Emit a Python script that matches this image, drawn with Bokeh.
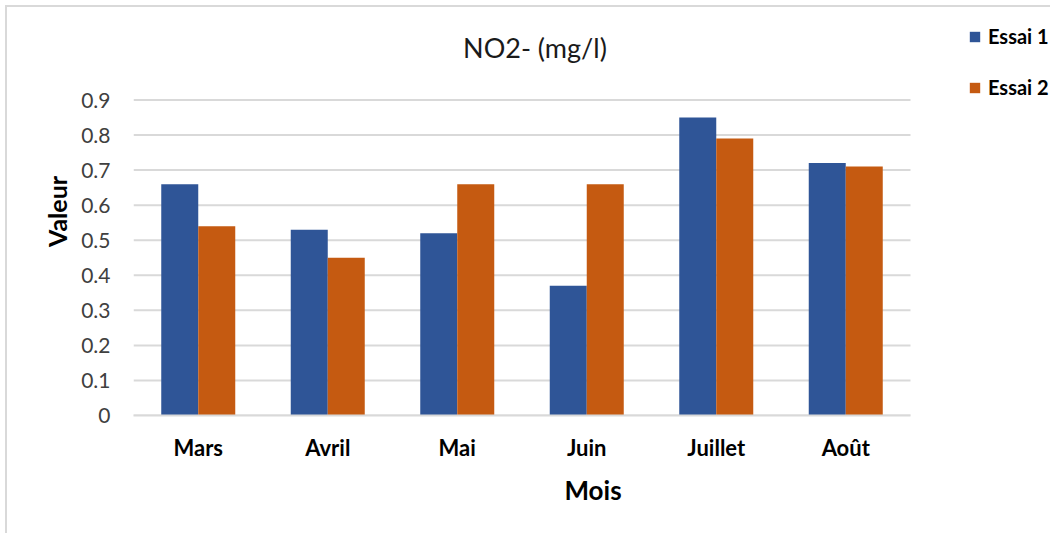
from bokeh.plotting import figure
from bokeh.models import Range1d, FixedTicker, Legend, LegendItem, ColumnDataSource, Label
from bokeh.embed import file_html
from bokeh.resources import INLINE

months = ["Mars", "Avril", "Mai", "Juin", "Juillet", "Août"]
essai1 = [0.66, 0.53, 0.52, 0.37, 0.85, 0.72]
essai2 = [0.54, 0.45, 0.66, 0.66, 0.79, 0.71]
y_ticks = [0, 0.1, 0.2, 0.3, 0.4, 0.5, 0.6, 0.7, 0.8, 0.9]
y_tick_labels = ["0", "0.1", "0.2", "0.3", "0.4", "0.5", "0.6", "0.7", "0.8", "0.9"]
series_names = ["Essai 1", "Essai 2"]
title_text = "NO2- (mg/l)"

BLUE = "#2F5597"
ORANGE = "#C55A11"
GRID = "#D9D9D9"
FONT = "Lato"

OFF = 7                           # canvas offset created by css margin+border
W, H = 1052 - OFF, 535 - OFF
LEFT, BOTTOM = 133 - OFF, 120     # frame left / bottom borders (px)
CAT_PX = 129.5                    # pixels per category
Y_PX = 315.5 / 0.9                # pixels per value unit

n = len(months)
centers = [i + 0.5 for i in range(n)]
bw = 1 / 3.5
src = ColumnDataSource(dict(
    x1=[c - bw / 2 for c in centers], x2=[c + bw / 2 for c in centers],
    e1=essai1, e2=essai2))
grid_src = ColumnDataSource(dict(
    x0=[0] * len(y_ticks), x1=[n] * len(y_ticks), y=y_ticks))

x_end = (W - LEFT) / CAT_PX
y_end = (H - BOTTOM) / Y_PX

p = figure(
    x_range=Range1d(0, x_end),
    y_range=Range1d(0, y_end),
    width=W, height=H,
    output_backend="svg", toolbar_location=None,
    min_border_left=LEFT, min_border_right=0,
    min_border_top=0, min_border_bottom=BOTTOM,
)
p.styles = {"margin-left": "5px", "margin-top": "5px",
            "border-left": "2px solid #D9D9D9", "border-top": "2px solid #D9D9D9"}
p.outline_line_color = None
p.background_fill_color = "white"
p.border_fill_color = "white"
p.xgrid.visible = False
p.ygrid.visible = False

# horizontal gridlines limited to the category span
p.segment(x0="x0", y0="y", x1="x1", y1="y", source=grid_src,
          line_color=GRID, line_width=2, level="underlay")

r1 = p.vbar(x="x1", top="e1", width=bw, source=src, fill_color=BLUE, line_color=None)
r2 = p.vbar(x="x2", top="e2", width=bw, source=src, fill_color=ORANGE, line_color=None)

# title as a label above the 0.9 line
p.add_layout(Label(x=n / 2 + 0.1, y=y_ticks[-1] + 0.15, text=title_text,
                   text_align="center", text_baseline="middle",
                   text_font=FONT, text_font_size="27px", text_color="#1a1a1a"))

# y axis
p.yaxis.ticker = FixedTicker(ticks=y_ticks)
p.yaxis.major_label_overrides = {t: l for t, l in zip(y_ticks, y_tick_labels)}
p.yaxis.axis_line_color = None
p.yaxis.major_tick_line_color = None
p.yaxis.minor_tick_line_color = None
p.yaxis.major_label_text_font = FONT
p.yaxis.major_label_text_font_size = "21px"
p.yaxis.major_label_text_color = "#404040"
p.yaxis.major_label_standoff = 17
p.yaxis.axis_label = "Valeur"
p.yaxis.axis_label_text_font = FONT
p.yaxis.axis_label_text_font_size = "25px"
p.yaxis.axis_label_text_font_style = "bold"
p.yaxis.axis_label_text_color = "#000000"
p.yaxis.axis_label_standoff = 6
p.yaxis.bounds = (0, y_ticks[-1])

# x axis
p.xaxis.ticker = FixedTicker(ticks=centers)
p.xaxis.major_label_overrides = {c: m for c, m in zip(centers, months)}
p.xaxis.bounds = (0, n)
p.xaxis.axis_line_color = GRID
p.xaxis.axis_line_width = 2
p.xaxis.major_tick_line_color = None
p.xaxis.minor_tick_line_color = None
p.xaxis.major_label_text_font = FONT
p.xaxis.major_label_text_font_size = "22px"
p.xaxis.major_label_text_font_style = "bold"
p.xaxis.major_label_text_color = "#000000"
p.xaxis.major_label_standoff = 12
p.xaxis.axis_label = "Mois"
p.xaxis.axis_label_text_font = FONT
p.xaxis.axis_label_text_font_size = "26px"
p.xaxis.axis_label_text_font_style = "bold"
p.xaxis.axis_label_text_color = "#000000"
p.xaxis.axis_label_standoff = 10

legend = Legend(
    items=[LegendItem(label=series_names[0], renderers=[r1]),
           LegendItem(label=series_names[1], renderers=[r2])],
    location=(835, 316),
)
legend.padding = 0
legend.margin = 0
legend.border_line_color = None
legend.background_fill_alpha = 0
legend.glyph_width = 13
legend.glyph_height = 13
legend.label_height = 20
legend.label_standoff = 7
legend.spacing = 27
legend.label_text_font = FONT
legend.label_text_font_size = "20px"
legend.label_text_font_style = "bold"
legend.label_text_color = "#000000"
p.add_layout(legend, "center")

open("out.html", "w").write(file_html(p, INLINE))
